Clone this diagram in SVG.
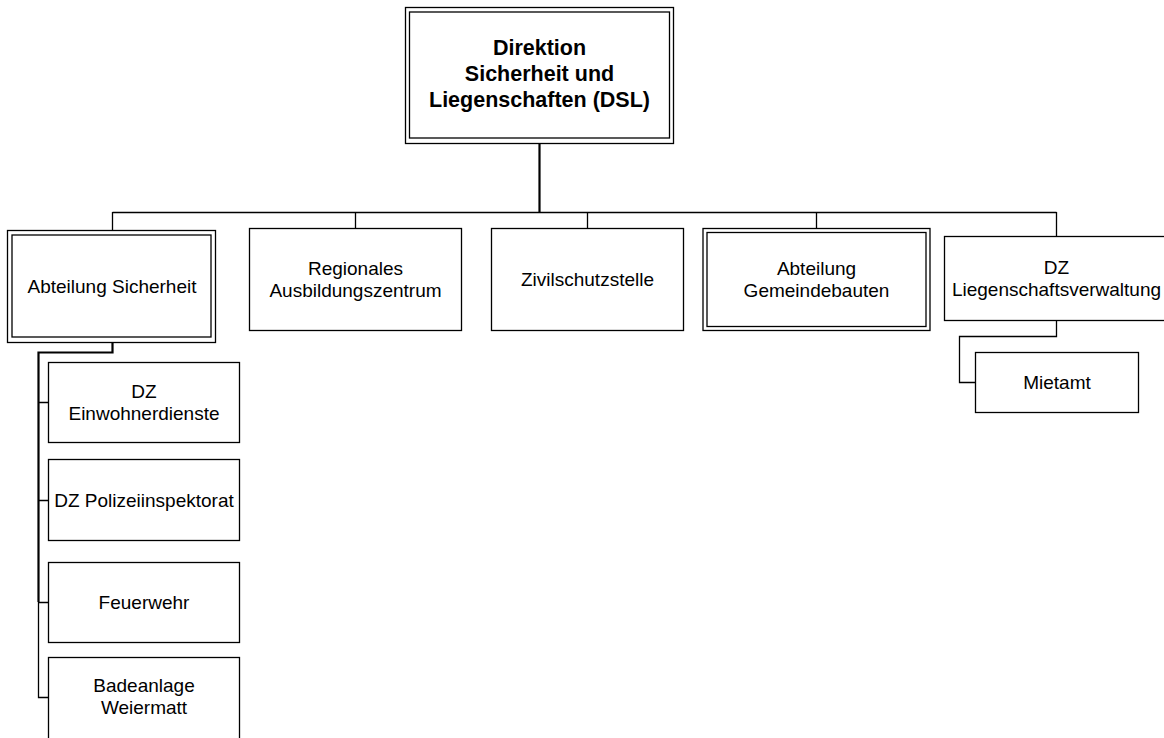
<svg xmlns="http://www.w3.org/2000/svg" width="1164" height="738" viewBox="0 0 1164 738">
<style>
.box{fill:#fff;stroke:#000;stroke-width:1.3}
.in{fill:none;stroke:#000;stroke-width:1.3}
.t{font-family:"Liberation Sans",Arial,sans-serif;font-size:19px;fill:#000;text-anchor:middle}
.b{font-family:"Liberation Sans",Arial,sans-serif;font-size:21.5px;font-weight:bold;fill:#000;text-anchor:middle}
.c{fill:none;stroke:#000;stroke-width:1.3}
.c2{fill:none;stroke:#000;stroke-width:2.2}
</style>
<rect width="1164" height="738" fill="#fff"/>
<g id="connectors">
<path class="c2" d="M539.5 143V212"/>
<path class="c" d="M112.5 212.5H1056.5"/>
<path class="c" d="M112.5 212V230M355.5 212V228M587.5 212V228M816.5 212V228M1056.5 212V236"/>
<path class="c2" d="M112.5 342V352.5H38.5V602"/>
<path class="c" d="M38.5 602V697.5H48M38.5 402.5H48M38.5 500.5H48M38.5 602.5H48"/>
<path class="c" d="M1056.5 320V336.5H959.5V382.5H975"/>
</g>
<g id="n-dsl">
<rect class="box" x="405.5" y="7.5" width="268" height="136"/>
<rect class="in" x="409.5" y="12" width="260" height="126"/>
<text class="b" x="539.5" y="55">Direktion</text>
<text class="b" x="539.5" y="81">Sicherheit und</text>
<text class="b" x="539.5" y="107">Liegenschaften (DSL)</text>
</g>
<g id="n-sicherheit">
<rect class="box" x="7.5" y="230.5" width="208" height="112"/>
<rect class="in" x="12" y="235" width="199" height="102"/>
<text class="t" x="112" y="293">Abteilung Sicherheit</text>
</g>
<g id="n-regional">
<rect class="box" x="249.5" y="228.5" width="212" height="102"/>
<text class="t" x="355.5" y="275">Regionales</text>
<text class="t" x="355.5" y="297">Ausbildungszentrum</text>
</g>
<g id="n-zivil">
<rect class="box" x="491.5" y="228.5" width="192" height="102"/>
<text class="t" x="587.5" y="286">Zivilschutzstelle</text>
</g>
<g id="n-gemeindebauten">
<rect class="box" x="703" y="228.5" width="227" height="102"/>
<rect class="in" x="707" y="232.5" width="219" height="94"/>
<text class="t" x="816.5" y="275">Abteilung</text>
<text class="t" x="816.5" y="297">Gemeindebauten</text>
</g>
<g id="n-liegenschaft">
<rect class="box" x="944.5" y="236.5" width="224" height="84"/>
<text class="t" x="1056.5" y="274">DZ</text>
<text class="t" x="1056.5" y="296">Liegenschaftsverwaltung</text>
</g>
<g id="n-mietamt">
<rect class="box" x="975.5" y="352.5" width="163" height="60"/>
<text class="t" x="1057" y="389">Mietamt</text>
</g>
<g id="n-einwohner">
<rect class="box" x="48.5" y="362.5" width="191" height="80"/>
<text class="t" x="144" y="397.5">DZ</text>
<text class="t" x="144" y="419.5">Einwohnerdienste</text>
</g>
<g id="n-polizei">
<rect class="box" x="48.5" y="459.5" width="191" height="81"/>
<text class="t" x="144" y="507">DZ Polizeiinspektorat</text>
</g>
<g id="n-feuerwehr">
<rect class="box" x="48.5" y="562.5" width="191" height="80"/>
<text class="t" x="144" y="609">Feuerwehr</text>
</g>
<g id="n-badeanlage">
<rect class="box" x="48.5" y="657.5" width="191" height="84"/>
<text class="t" x="144" y="692">Badeanlage</text>
<text class="t" x="144" y="714">Weiermatt</text>
</g>
</svg>
